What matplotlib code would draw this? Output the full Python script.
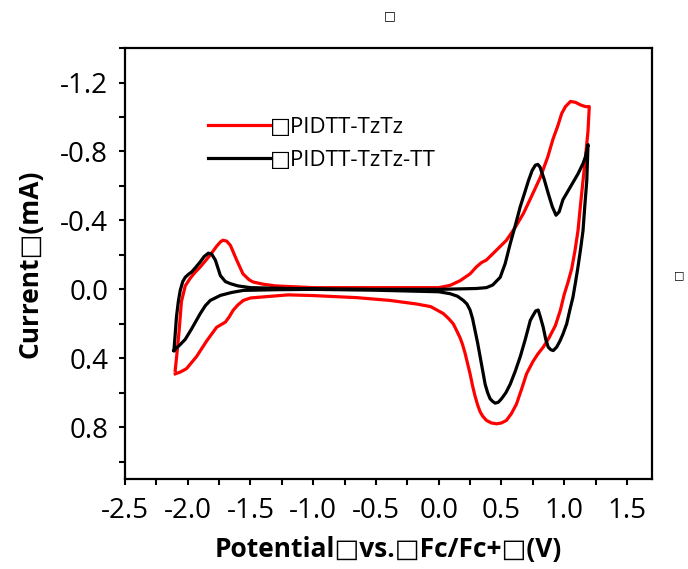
import numpy as np
import matplotlib.pyplot as plt
from matplotlib.ticker import MultipleLocator

plt.rcParams['font.family'] = ['Open Sans', 'DejaVu Sans']
plt.rcParams['axes.unicode_minus'] = False

# red loop: PIDTT-TzTz (forward scan then reverse scan)
red_x = [-2.10, -2.09, -2.07, -2.05, -2.02, -1.98, -1.94, -1.90, -1.86, -1.82,
         -1.77, -1.74, -1.72, -1.69, -1.66, -1.61, -1.56, -1.51, -1.48, -1.40,
         -1.30, -1.00, -0.50, 0.00, 0.09, 0.17, 0.25, 0.30, 0.34, 0.38,
         0.45, 0.54, 0.61, 0.675, 0.74, 0.81, 0.87, 0.91, 0.95, 0.98,
         1.01, 1.05, 1.09, 1.13, 1.17, 1.20,
         1.19, 1.17, 1.15, 1.13, 1.11, 1.085, 1.06, 1.03, 1.00, 0.97,
         0.93, 0.88, 0.833, 0.79, 0.75, 0.70, 0.66, 0.62, 0.58, 0.54,
         0.50, 0.46, 0.42, 0.38, 0.35, 0.33, 0.31, 0.29, 0.27, 0.25,
         0.23, 0.21, 0.19, 0.17, 0.14, 0.116, 0.08, 0.036, -0.064, -0.176,
         -0.39, -0.654, -1.00, -1.20, -1.42, -1.50, -1.557, -1.60, -1.637, -1.67,
         -1.70, -1.77, -1.85, -1.93, -2.01, -2.06, -2.10]
red_y = [0.47, 0.40, 0.25, 0.07, -0.02, -0.065, -0.10, -0.13, -0.165, -0.20,
         -0.25, -0.275, -0.285, -0.28, -0.255, -0.17, -0.09, -0.055, -0.043, -0.03,
         -0.02, -0.01, -0.01, -0.01, -0.023, -0.05, -0.09, -0.13, -0.155, -0.17,
         -0.22, -0.285, -0.36, -0.44, -0.54, -0.65, -0.77, -0.87, -0.95, -1.02,
         -1.06, -1.09, -1.085, -1.07, -1.06, -1.06,
         -0.92, -0.77, -0.63, -0.49, -0.34, -0.22, -0.12, -0.04, 0.03, 0.12,
         0.21, 0.28, 0.335, 0.375, 0.42, 0.49, 0.58, 0.665, 0.72, 0.76,
         0.775, 0.78, 0.775, 0.76, 0.735, 0.71, 0.67, 0.62, 0.56, 0.49,
         0.43, 0.37, 0.32, 0.28, 0.235, 0.20, 0.17, 0.14, 0.10, 0.085,
         0.064, 0.048, 0.036, 0.032, 0.045, 0.05, 0.064, 0.09, 0.12, 0.16,
         0.19, 0.22, 0.30, 0.39, 0.46, 0.48, 0.49]

# black loop: PIDTT-TzTz-TT
blk_x = [-2.11, -2.10, -2.09, -2.075, -2.06, -2.04, -2.02, -1.99, -1.97, -1.94,
         -1.90, -1.87, -1.836, -1.81, -1.78, -1.74, -1.70, -1.66, -1.60, -1.50,
         -1.20, -0.50, 0.00, 0.30, 0.38, 0.43, 0.49, 0.53, 0.57, 0.61,
         0.65, 0.685, 0.715, 0.745, 0.77, 0.79, 0.807, 0.84, 0.873, 0.905,
         0.935, 0.96, 0.99, 1.03, 1.07, 1.11, 1.15, 1.17, 1.19,
         1.18, 1.165, 1.15, 1.13, 1.11, 1.09, 1.07, 1.045, 1.02, 0.99,
         0.966, 0.94, 0.913, 0.893, 0.873, 0.853, 0.833, 0.81, 0.793, 0.773,
         0.753, 0.73, 0.69, 0.65, 0.61, 0.57, 0.535, 0.50, 0.475, 0.45,
         0.43, 0.41, 0.39, 0.37, 0.35, 0.33, 0.31, 0.29, 0.27, 0.25,
         0.225, 0.196, 0.15, 0.09, 0.00, -0.50, -1.00, -1.30, -1.557, -1.65,
         -1.74, -1.82, -1.86, -1.90, -1.97, -2.02, -2.06, -2.11]
blk_y = [0.355, 0.26, 0.16, 0.07, 0.006, -0.045, -0.07, -0.09, -0.10, -0.125,
         -0.16, -0.19, -0.21, -0.205, -0.17, -0.08, -0.045, -0.033, -0.02, -0.01,
         -0.005, 0.0, 0.0, -0.005, -0.01, -0.025, -0.07, -0.15, -0.265, -0.37,
         -0.48, -0.56, -0.63, -0.69, -0.72, -0.725, -0.71, -0.64, -0.556, -0.48,
         -0.43, -0.45, -0.52, -0.57, -0.62, -0.67, -0.73, -0.77, -0.84,
         -0.63, -0.49, -0.34, -0.23, -0.13, -0.04, 0.045, 0.12, 0.20, 0.26,
         0.30, 0.335, 0.355, 0.35, 0.335, 0.29, 0.22, 0.16, 0.12, 0.125,
         0.15, 0.18, 0.29, 0.39, 0.475, 0.55, 0.60, 0.635, 0.655, 0.66,
         0.65, 0.635, 0.60, 0.55, 0.47, 0.39, 0.31, 0.24, 0.17, 0.12,
         0.085, 0.064, 0.04, 0.025, 0.014, 0.005, 0.0, 0.002, 0.006, 0.018,
         0.035, 0.064, 0.095, 0.14, 0.23, 0.29, 0.32, 0.355]

labels = ["\u25a1PIDTT-TzTz", "\u25a1PIDTT-TzTz-TT"]

fig = plt.figure(figsize=(6.88, 5.69), dpi=100)
ax = fig.add_axes([0.1817, 0.1582, 0.766, 0.7574])

ax.plot(red_x, red_y, color="#ff0000", lw=2.3, label=labels[0])
ax.plot(blk_x, blk_y, color="black", lw=2.3, label=labels[1])

ax.set_xlim(-2.5, 1.7)
ax.set_ylim(1.1, -1.4)
ax.xaxis.set_major_locator(MultipleLocator(0.5))
ax.xaxis.set_minor_locator(MultipleLocator(0.25))
ax.yaxis.set_minor_locator(MultipleLocator(0.2))
ax.set_yticks([-1.2, -0.8, -0.4, 0.0, 0.4, 0.8])

for s in ax.spines.values():
    s.set_linewidth(1.6)
ax.tick_params(which="both", direction="out", length=4, width=1.5,
               top=False, right=False)
ax.tick_params(axis="x", which="major", labelsize=20, pad=9)
ax.tick_params(axis="y", which="major", labelsize=20, pad=8)

ax.set_xlabel("Potential\u25a1vs.\u25a1Fc/Fc+\u25a1(V)", fontsize=19,
              fontweight="bold", labelpad=8)
ax.set_ylabel("Current\u25a1(mA)", fontsize=19, fontweight="bold", labelpad=12)

ax.legend(loc="upper left", bbox_to_anchor=(0.157, 0.84), frameon=False,
          handlelength=2.8, handletextpad=0.0, borderpad=0, borderaxespad=0,
          labelspacing=0.55, fontsize=16)

fig.text(0.567, 0.972, "\u25a1", fontsize=9, ha="center", va="center")
fig.text(0.987, 0.515, "\u25a1", fontsize=8, ha="center", va="center")

plt.savefig("out.png", dpi=100)
